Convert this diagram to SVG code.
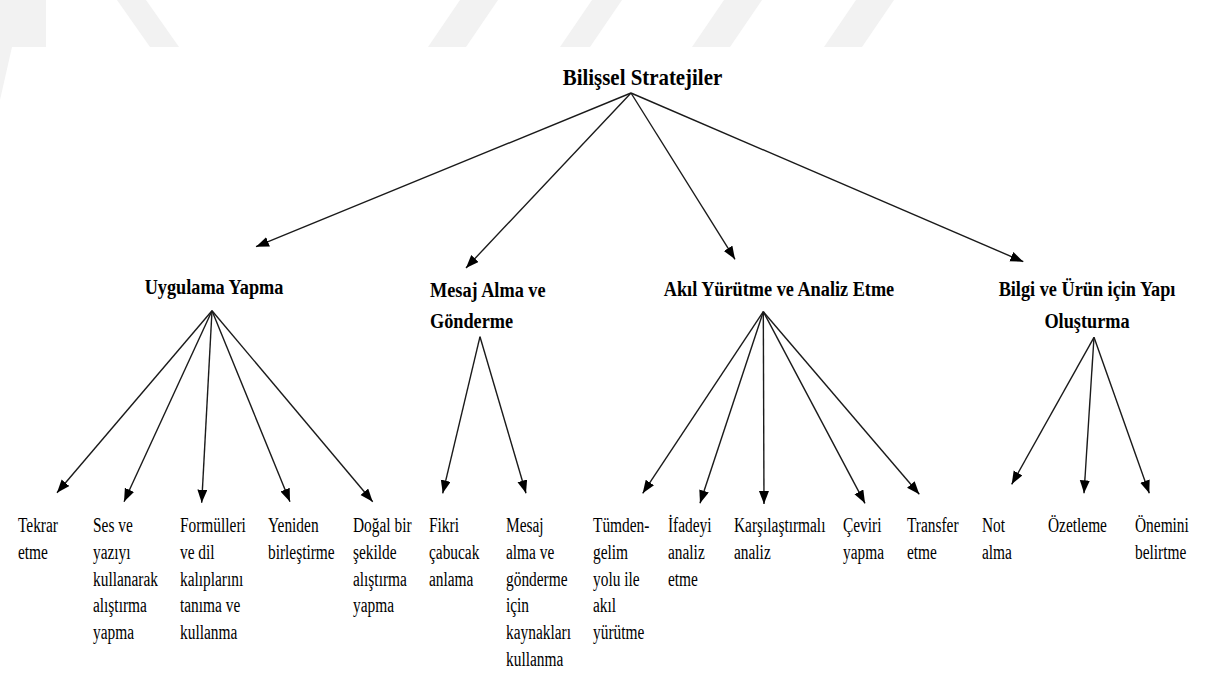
<svg xmlns="http://www.w3.org/2000/svg" width="1213" height="677" viewBox="0 0 1213 677">
  <style>
    text { font-family: 'Liberation Serif', 'Times New Roman', Times, serif; fill: #000; }
    .title { font-weight: bold; font-size: 24px; }
    .head  { font-weight: bold; font-size: 22px; }
    .leaf  { font-size: 20px; }
    .edge  { stroke: #1a1a1a; stroke-width: 1.4; fill: none; marker-end: url(#arrow); }
    .mark  { fill: #f2f2f2; }
  </style>
  <defs>
    <marker id="arrow" markerUnits="userSpaceOnUse" markerWidth="16" markerHeight="12" refX="13" refY="5" orient="auto">
      <path d="M0,0 L13,5 L0,10 Z" fill="#000"/>
    </marker>
  </defs>

  <rect width="1213" height="677" fill="#ffffff"/>

  <!-- faint banner marks along the top edge -->
  <g id="banner">
    <polygon class="mark" points="0,0 46,0 46,47 12,47 0,100"/>
    <polygon class="mark" points="117,0 146,0 179,47 150,47"/>
    <polygon class="mark" points="460,0 498,0 466,47 428,47"/>
    <polygon class="mark" points="592,0 622,0 590,47 560,47"/>
    <polygon class="mark" points="724,0 762,0 730,47 692,47"/>
    <polygon class="mark" points="856,0 894,0 862,47 824,47"/>
  </g>

  <!-- connectors -->
  <g id="connectors">
    <line class="edge" x1="631" y1="93" x2="256" y2="246.7"/>
    <line class="edge" x1="631" y1="93" x2="466" y2="268"/>
    <line class="edge" x1="631" y1="93" x2="735" y2="259.3"/>
    <line class="edge" x1="631" y1="93" x2="1023.3" y2="261.7"/>

    <line class="edge" x1="212" y1="310.7" x2="57" y2="492.7"/>
    <line class="edge" x1="212" y1="310.7" x2="124" y2="501.7"/>
    <line class="edge" x1="212" y1="310.7" x2="201.7" y2="502.7"/>
    <line class="edge" x1="212" y1="310.7" x2="290" y2="501.7"/>
    <line class="edge" x1="212" y1="310.7" x2="372.7" y2="501.7"/>

    <line class="edge" x1="480" y1="336.7" x2="442.7" y2="493.3"/>
    <line class="edge" x1="480" y1="336.7" x2="526" y2="493.3"/>

    <line class="edge" x1="763.3" y1="311.7" x2="642.7" y2="493.3"/>
    <line class="edge" x1="763.3" y1="311.7" x2="700" y2="503.3"/>
    <line class="edge" x1="763.3" y1="311.7" x2="764" y2="504"/>
    <line class="edge" x1="763.3" y1="311.7" x2="865" y2="503.3"/>
    <line class="edge" x1="763.3" y1="311.7" x2="919.3" y2="494.3"/>

    <line class="edge" x1="1094" y1="337.3" x2="1011.7" y2="484.3"/>
    <line class="edge" x1="1094" y1="337.3" x2="1084" y2="493.3"/>
    <line class="edge" x1="1094" y1="337.3" x2="1149.3" y2="493.3"/>
  </g>

  <!-- root -->
  <g id="bilissel-stratejiler">
    <text class="title" text-anchor="middle" transform="translate(642.5,85) scale(0.87,1)">Bilişsel Stratejiler</text>
  </g>

  <!-- second level -->
  <g id="uygulama-yapma">
    <text class="head" text-anchor="middle" transform="translate(214,293.5) scale(0.83,1)">Uygulama Yapma</text>
  </g>
  <g id="mesaj-alma">
    <text class="head" transform="translate(430,296.5) scale(0.83,1)"><tspan x="0">Mesaj Alma ve</tspan><tspan x="0" dy="32">Gönderme</tspan></text>
  </g>
  <g id="akil-yurutme">
    <text class="head" text-anchor="middle" transform="translate(779,296) scale(0.83,1)">Akıl Yürütme ve Analiz Etme</text>
  </g>
  <g id="bilgi-urun">
    <text class="head" text-anchor="middle" transform="translate(1087,296) scale(0.83,1)"><tspan x="0">Bilgi ve Ürün için Yapı</tspan><tspan x="0" dy="32.5">Oluşturma</tspan></text>
  </g>

  <!-- leaves: Uygulama Yapma -->
  <g id="tekrar-etme">
    <text class="leaf" transform="translate(18,532) scale(0.77,1)"><tspan x="0">Tekrar</tspan><tspan x="0" dy="26.8">etme</tspan></text>
  </g>
  <g id="ses-ve-yazi">
    <text class="leaf" transform="translate(93,532) scale(0.77,1)"><tspan x="0">Ses ve</tspan><tspan x="0" dy="26.8">yazıyı</tspan><tspan x="0" dy="26.8">kullanarak</tspan><tspan x="0" dy="26.8">alıştırma</tspan><tspan x="0" dy="26.8">yapma</tspan></text>
  </g>
  <g id="formuller">
    <text class="leaf" transform="translate(180,532) scale(0.77,1)"><tspan x="0">Formülleri</tspan><tspan x="0" dy="26.8">ve dil</tspan><tspan x="0" dy="26.8">kalıplarını</tspan><tspan x="0" dy="26.8">tanıma ve</tspan><tspan x="0" dy="26.8">kullanma</tspan></text>
  </g>
  <g id="yeniden-birlestirme">
    <text class="leaf" transform="translate(268,532) scale(0.77,1)"><tspan x="0">Yeniden</tspan><tspan x="0" dy="26.8">birleştirme</tspan></text>
  </g>
  <g id="dogal-alistirma">
    <text class="leaf" transform="translate(353,532) scale(0.77,1)"><tspan x="0">Doğal bir</tspan><tspan x="0" dy="26.8">şekilde</tspan><tspan x="0" dy="26.8">alıştırma</tspan><tspan x="0" dy="26.8">yapma</tspan></text>
  </g>

  <!-- leaves: Mesaj Alma ve Gönderme -->
  <g id="fikri-anlama">
    <text class="leaf" transform="translate(429,532) scale(0.77,1)"><tspan x="0">Fikri</tspan><tspan x="0" dy="26.8">çabucak</tspan><tspan x="0" dy="26.8">anlama</tspan></text>
  </g>
  <g id="kaynaklari-kullanma">
    <text class="leaf" transform="translate(506,532) scale(0.77,1)"><tspan x="0">Mesaj</tspan><tspan x="0" dy="26.8">alma ve</tspan><tspan x="0" dy="26.8">gönderme</tspan><tspan x="0" dy="26.8">için</tspan><tspan x="0" dy="26.8">kaynakları</tspan><tspan x="0" dy="26.8">kullanma</tspan></text>
  </g>

  <!-- leaves: Akıl Yürütme ve Analiz Etme -->
  <g id="tumdengelim">
    <text class="leaf" transform="translate(593,532) scale(0.77,1)"><tspan x="0">Tümden-</tspan><tspan x="0" dy="26.8">gelim</tspan><tspan x="0" dy="26.8">yolu ile</tspan><tspan x="0" dy="26.8">akıl</tspan><tspan x="0" dy="26.8">yürütme</tspan></text>
  </g>
  <g id="ifade-analiz">
    <text class="leaf" transform="translate(668,532) scale(0.77,1)"><tspan x="0">İfadeyi</tspan><tspan x="0" dy="26.8">analiz</tspan><tspan x="0" dy="26.8">etme</tspan></text>
  </g>
  <g id="karsilastirmali-analiz">
    <text class="leaf" transform="translate(734,532) scale(0.77,1)"><tspan x="0">Karşılaştırmalı</tspan><tspan x="0" dy="26.8">analiz</tspan></text>
  </g>
  <g id="ceviri-yapma">
    <text class="leaf" transform="translate(843,532) scale(0.77,1)"><tspan x="0">Çeviri</tspan><tspan x="0" dy="26.8">yapma</tspan></text>
  </g>
  <g id="transfer-etme">
    <text class="leaf" transform="translate(907,532) scale(0.77,1)"><tspan x="0">Transfer</tspan><tspan x="0" dy="26.8">etme</tspan></text>
  </g>

  <!-- leaves: Bilgi ve Ürün için Yapı Oluşturma -->
  <g id="not-alma">
    <text class="leaf" transform="translate(982,532) scale(0.77,1)"><tspan x="0">Not</tspan><tspan x="0" dy="26.8">alma</tspan></text>
  </g>
  <g id="ozetleme">
    <text class="leaf" transform="translate(1048,532) scale(0.77,1)">Özetleme</text>
  </g>
  <g id="onemini-belirtme">
    <text class="leaf" transform="translate(1135,532) scale(0.77,1)"><tspan x="0">Önemini</tspan><tspan x="0" dy="26.8">belirtme</tspan></text>
  </g>
</svg>
